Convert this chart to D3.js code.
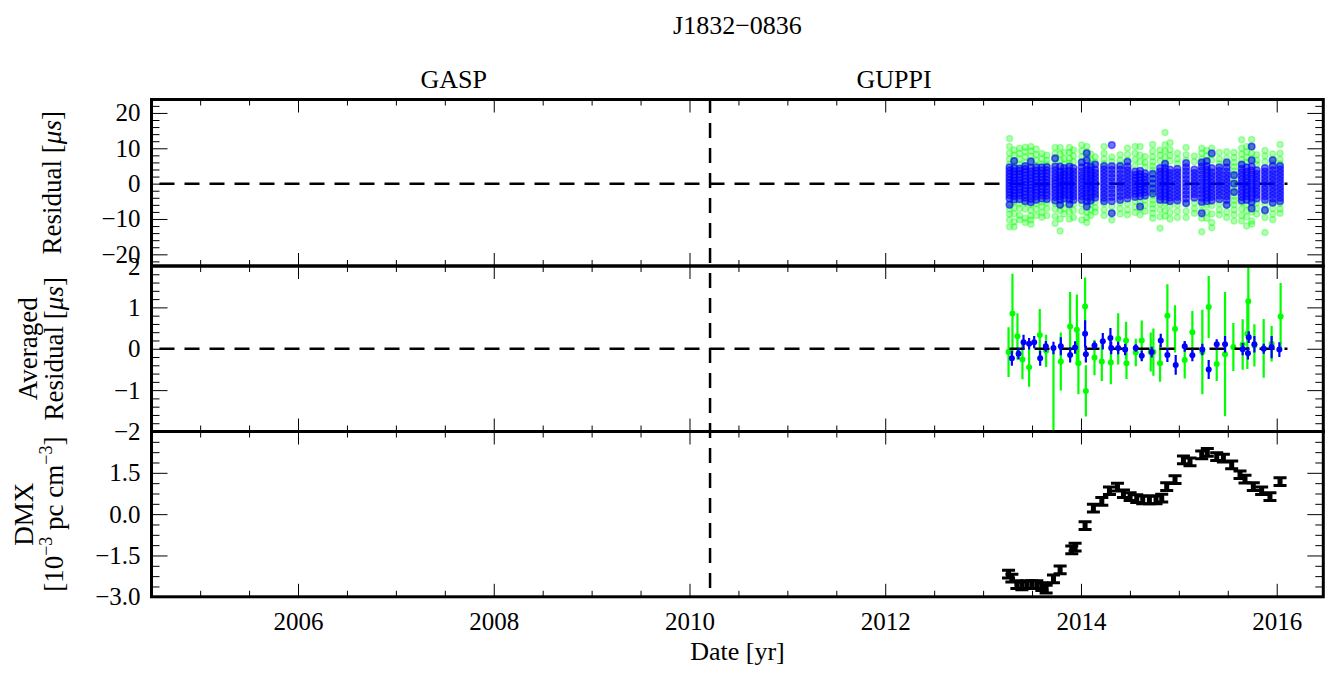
<!DOCTYPE html>
<html><head><meta charset="utf-8">
<script src="https://cdn.jsdelivr.net/npm/d3@7"></script>
<style>
html,body{margin:0;padding:0;background:#fff;}
svg{display:block;}
text{font-family:"Liberation Serif","Times New Roman",serif;}
</style></head><body>
<svg id="c" width="1330" height="673"></svg>
<script>
// ---------------- DATA ----------------
const title = "J1832\u22120836";
const backends = ["GASP", "GUPPI"];
const backendSwitch = 2010.21;
const xTicks = [2006, 2008, 2010, 2012, 2014, 2016];
const resTicks = [-20, -10, 0, 10, 20];
const avgTicks = [-2, -1, 0, 1, 2];
const dmxTicks = [-3.0, -1.5, 0.0, 1.5];

// Residual epochs [yr] and residuals [us] per epoch
const resEpochs = [2013.270, 2013.317, 2013.372, 2013.430, 2013.488, 2013.542, 2013.600, 2013.651,
  2013.736, 2013.787, 2013.828, 2013.882, 2013.923, 2014.008, 2014.059, 2014.100, 2014.145, 2014.236,
  2014.315, 2014.400, 2014.475, 2014.553, 2014.604, 2014.655, 2014.733, 2014.808, 2014.859, 2014.910,
  2014.985, 2015.074, 2015.159, 2015.234, 2015.285, 2015.336, 2015.414, 2015.489, 2015.564, 2015.642,
  2015.693, 2015.744, 2015.795, 2015.880, 2015.959, 2016.034];
const resGreen = [
  [12.8,10.5,8.6,7.0,5.5,-5.5,-7.2,-8.6,-10.2,-12.2],
  [9.5,8.0,6.5,5.3,-5.2,-6.8,-8.5,-10.8,-12.2],
  [10.0,8.5,7.0,5.4,-5.6,-7.0,-9.0,-10.2],
  [10.3,9.0,7.6,6.0,-5.5,-7.2,-9.8,-11.0],
  [10.5,9.2,7.8,6.0,-6.0,-7.5,-9.1,-10.3,-11.5],
  [9.8,8.2,6.6,5.2,-5.6,-7.2,-9.0],
  [8.5,7.0,5.5,-5.2,-6.5,-8.2,-9.5],
  [8.0,6.6,5.4,-5.4,-7.0,-9.0],
  [10.2,8.5,7.0,5.6,-5.6,-7.2,-9.2,-11.2],
  [10.2,8.4,6.6,-5.8,-7.6,-10.0,-13.4],
  [8.8,7.0,5.5,-5.4,-7.0,-8.6],
  [10.2,8.8,7.2,5.8,-6.2,-8.0,-10.0],
  [9.5,7.8,6.2,-5.8,-7.6,-9.6],
  [10.9,9.2,7.6,6.0,-5.8,-7.8,-10.3],
  [10.5,9.0,7.4,-6.0,-8.0,-9.6,-11.0],
  [8.4,6.8,5.6,-5.6,-7.4,-9.0],
  [7.5,6.0,-5.2,-6.8,-8.0],
  [10.5,8.6,7.0,5.6,-5.6,-7.4,-9.0],
  [7.5,6.2,-6.4,-8.2,-10.3],
  [8.2,6.6,5.4,-5.4,-7.0,-8.6],
  [10.0,8.2,6.6,-5.6,-7.4,-8.8],
  [10.5,8.6,6.8,5.0,-5.0,-6.6,-8.2],
  [10.5,8.0,6.2,-5.2,-7.0,-8.8],
  [7.6,6.0,4.6,-4.6,-6.2,-7.8],
  [11.1,9.2,7.6,6.2,5.0,3.8,2.6,1.4,0.2,-1.0,-2.2,-3.4,-4.6,-5.8,-7.0,-8.4,-9.8],
  [9.5,8.0,6.4,-5.6,-7.4,-9.4,-12.6],
  [14.5,11.0,9.2,7.4,5.8,-5.6,-7.6,-9.2],
  [11.6,9.6,8.0,6.4,-6.2,-8.2,-10.0],
  [8.6,7.0,5.6,-6.0,-7.8,-9.6],
  [10.2,8.2,6.6,-5.8,-7.8,-9.6],
  [7.8,6.2,-5.4,-7.0,-8.4],
  [10.0,8.6,7.0,5.8,-6.0,-7.8,-9.8,-13.6],
  [9.4,7.8,6.2,-6.0,-8.0,-9.8],
  [10.0,8.2,6.6,-6.2,-8.6,-11.0,-12.5],
  [8.8,7.0,5.6,-5.6,-7.4,-8.8],
  [9.0,7.2,5.6,-6.2,-8.0,-9.6],
  [8.8,7.4,6.0,4.8,3.6,2.4,1.2,0.0,-1.2,-2.4,-3.6,-4.8,-6.0,-7.4,-8.8,-10.6],
  [12.4,10.0,8.4,6.8,5.4,-5.4,-7.2,-9.0,-10.6],
  [10.5,9.0,7.4,6.0,-6.0,-7.6,-9.4,-12.0],
  [12.5,10.4,8.6,7.0,-6.0,-8.0,-10.6,-11.4],
  [8.2,6.6,5.4,-5.4,-7.0,-8.6],
  [9.4,7.8,6.2,-5.8,-7.8,-9.6,-13.8],
  [8.4,7.0,5.6,-5.4,-7.0,-8.6,-10.2],
  [11.1,8.6,6.8,5.6,-5.6,-7.2,-8.4]
];
const resBlue = [
  [-6.0,-4.2,-3.3,-2.4,-1.5,-0.7,0.2,1.0,1.9,2.8,3.7,4.6],
  [-4.5,-3.5,-2.6,-1.8,-0.9,0.0,0.8,1.7,2.6,3.5,4.4,6.4],
  [-4.4,-3.4,-2.5,-1.6,-0.8,0.1,0.9,1.8,2.7,3.6,4.3],
  [-5.0,-4.0,-3.1,-2.2,-1.3,-0.4,0.5,1.4,2.3,3.2,4.1,5.0],
  [-5.3,-4.3,-3.2,-2.2,-1.2,-0.3,0.6,1.5,2.5,3.5,4.5,6.3],
  [-4.6,-3.6,-2.6,-1.7,-0.8,0.1,1.0,1.9,2.8,3.7,4.6],
  [-4.2,-3.3,-2.4,-1.5,-0.7,0.2,1.0,1.9,2.8,3.7,4.6],
  [-4.4,-3.4,-2.5,-1.6,-0.7,0.2,1.1,2.0,2.9,3.8,4.7],
  [-4.8,-3.8,-2.8,-1.8,-0.9,0.0,0.9,1.8,2.8,3.8,4.8,7.2],
  [-6.0,-4.6,-3.6,-2.6,-1.6,-0.6,0.4,1.4,2.4,3.4,4.8],
  [-4.2,-3.2,-2.2,-1.2,-0.3,0.6,1.5,2.5,3.5,4.4],
  [-5.8,-4.5,-3.4,-2.4,-1.4,-0.4,0.6,1.6,2.6,3.6,4.8],
  [-4.6,-3.6,-2.6,-1.6,-0.6,0.4,1.4,2.4,3.4,4.4],
  [-4.6,-3.6,-2.6,-1.6,-0.6,0.4,1.4,2.4,3.4,4.6,6.0],
  [-6.5,-5.0,-3.8,-2.7,-1.6,-0.5,0.6,1.7,2.8,3.9,5.0,6.6,8.6],
  [-4.8,-3.7,-2.6,-1.5,-0.5,0.5,1.5,2.6,3.7,4.8],
  [-4.0,-3.0,-2.0,-1.0,0.0,1.0,2.0,3.0,4.0,5.4],
  [-5.0,-4.0,-3.0,-2.0,-1.0,0.0,1.0,2.0,3.0,4.0,5.0],
  [-8.4,-5.0,-3.8,-2.7,-1.6,-0.5,0.6,1.7,2.8,3.9,5.0,10.9],
  [-4.6,-3.5,-2.4,-1.3,-0.3,0.7,1.7,2.8,3.9,5.0],
  [-4.2,-3.2,-2.2,-1.2,-0.2,0.8,1.8,2.8,3.8,4.8,6.2],
  [-3.8,-2.9,-2.0,-1.1,-0.2,0.7,1.6,2.5,3.4],
  [-6.5,-3.6,-2.7,-1.8,-0.9,0.0,0.9,1.8,2.7,3.6],
  [-3.4,-2.5,-1.6,-0.7,0.2,1.1,2.0,2.9],
  [-2.8,-1.4,0.0,1.4,2.8],
  [-4.6,-3.6,-2.6,-1.6,-0.6,0.4,1.4,2.4,3.4,4.4],
  [-4.6,-3.6,-2.6,-1.6,-0.6,0.4,1.4,2.4,3.4,4.4,5.6],
  [-5.0,-4.0,-3.0,-2.0,-1.0,0.0,1.0,2.0,3.0,4.0],
  [-4.8,-3.8,-2.8,-1.8,-0.8,0.2,1.2,2.2,3.2,4.2],
  [-5.5,-4.2,-3.1,-2.0,-0.9,0.2,1.3,2.4,3.5,4.6,5.8],
  [-4.0,-3.0,-2.0,-1.0,0.0,1.0,2.0,3.0,4.0],
  [-8.4,-5.2,-4.0,-2.9,-1.8,-0.7,0.4,1.5,2.6,3.7,4.8,6.0],
  [-5.0,-4.0,-3.0,-2.0,-1.0,0.0,1.0,2.0,3.0,4.0,5.0,6.4],
  [-4.8,-3.8,-2.8,-1.8,-0.8,0.2,1.2,2.2,3.2,4.4,8.6],
  [-4.4,-3.4,-2.4,-1.4,-0.4,0.6,1.6,2.6,3.6,4.6],
  [-6.0,-4.6,-3.6,-2.6,-1.6,-0.6,0.4,1.4,2.4,3.4,4.6,6.0],
  [-2.4,0.0,2.4],
  [-4.8,-3.8,-2.8,-1.8,-0.8,0.2,1.2,2.2,3.2,4.2,5.4],
  [-4.6,-3.6,-2.6,-1.6,-0.6,0.4,1.4,2.4,3.4,4.6],
  [-7.0,-5.2,-4.0,-2.9,-1.8,-0.7,0.4,1.5,2.6,3.7,4.8,6.6,10.5],
  [-4.2,-3.2,-2.2,-1.2,-0.2,0.8,1.8,2.8,3.8],
  [-7.5,-4.6,-3.6,-2.6,-1.6,-0.6,0.4,1.4,2.4,3.4,4.4],
  [-5.4,-4.2,-3.2,-2.2,-1.2,-0.2,0.8,1.8,2.8,3.8,5.0,6.6],
  [-5.0,-4.0,-3.0,-2.0,-1.0,0.0,1.0,2.0,3.0,4.0,5.0]
];

// Averaged residuals [us]
const avgGreenDates = [2013.260,2013.300,2013.351,2013.402,2013.470,2013.579,2013.644,2013.719,2013.794,2013.889,
  2013.958,2013.974,2014.042,2014.050,2014.138,2014.213,2014.305,2014.380,2014.461,2014.465,2014.560,2014.621,
  2014.713,2014.740,2014.808,2014.883,2014.961,2015.060,2015.138,2015.240,2015.305,2015.387,2015.472,2015.557,
  2015.652,2015.700,2015.710,2015.772,2015.867,2015.948,2016.040];
const avgGreenRes = [-0.08,0.85,0.30,-0.26,-0.45,0.33,-0.05,-2.40,-0.31,0.54,
  0.46,-0.35,1.02,-1.02,-0.21,-0.31,-0.33,0.24,0.20,-0.35,-0.09,0.20,
  -0.08,-0.08,-0.35,0.80,0.48,-0.27,0.40,-0.08,1.01,-0.37,-0.13,0.04,
  0.10,0.36,1.15,0.08,0.01,0.12,0.78];
const avgGreenErr = [0.60,0.96,0.56,0.48,0.47,0.63,0.39,2.45,0.70,0.83,
  0.85,0.75,0.70,0.62,0.43,0.47,0.53,0.62,0.45,0.38,0.33,0.48,
  0.47,0.57,0.45,0.76,0.57,0.45,0.51,1.02,0.75,0.41,1.50,0.58,
  0.61,0.85,0.82,0.51,0.71,0.43,0.81];
const avgBlueDates = [2013.294,2013.362,2013.413,2013.470,2013.522,2013.583,2013.641,2013.719,2013.794,2013.889,
  2013.940,2014.042,2014.050,2014.138,2014.223,2014.301,2014.309,2014.380,2014.451,2014.560,2014.621,2014.723,
  2014.815,2014.883,2014.968,2015.060,2015.138,2015.240,2015.305,2015.387,2015.472,2015.652,2015.706,2015.714,
  2015.772,2015.867,2015.948,2016.027];
const avgBlueRes = [-0.23,-0.12,0.16,0.12,0.16,-0.23,0.06,0.02,0.06,-0.15,
  0.03,0.36,-0.13,0.08,0.18,0.26,0.02,0.02,-0.02,0.02,-0.17,-0.08,
  0.20,-0.15,-0.39,0.06,-0.16,-0.02,-0.50,0.11,0.11,-0.01,-0.11,0.28,
  0.11,0.00,0.04,-0.02];
const avgBlueErr = [0.18,0.14,0.18,0.14,0.15,0.18,0.13,0.15,0.22,0.18,
  0.15,0.33,0.20,0.10,0.20,0.24,0.15,0.15,0.14,0.09,0.13,0.13,
  0.16,0.17,0.24,0.13,0.14,0.14,0.23,0.12,0.20,0.15,0.15,0.14,
  0.20,0.12,0.27,0.18];

// DMX [1e-3 pc cm^-3]
const dmxDates = [2013.260,2013.294,2013.345,2013.396,2013.447,2013.498,2013.549,2013.600,2013.644,2013.719,
  2013.787,2013.906,2013.940,2014.042,2014.127,2014.213,2014.291,2014.373,2014.434,2014.502,
  2014.570,2014.631,2014.699,2014.767,2014.825,2014.876,2014.961,2015.047,2015.114,2015.234,
  2015.291,2015.387,2015.455,2015.540,2015.625,2015.676,2015.761,2015.846,2015.931,2016.034];
const dmxValues = [-2.18,-2.32,-2.56,-2.60,-2.56,-2.56,-2.56,-2.63,-2.72,-2.35,
  -2.02,-1.30,-1.20,-0.42,0.22,0.46,0.85,0.98,0.74,0.64,
  0.56,0.52,0.52,0.52,0.58,1.00,1.25,1.97,1.90,2.15,
  2.24,2.09,2.03,1.79,1.43,1.27,1.00,0.85,0.64,1.18];
const dmxErrors = [0.14,0.14,0.14,0.14,0.14,0.14,0.14,0.14,0.14,0.14,
  0.14,0.14,0.14,0.14,0.14,0.14,0.14,0.14,0.14,0.14,
  0.14,0.14,0.14,0.14,0.14,0.14,0.14,0.14,0.14,0.14,
  0.14,0.14,0.14,0.14,0.14,0.14,0.14,0.14,0.14,0.14];

// ---------------- LAYOUT ----------------
const L = 151.5, R = 1323.3;
const GREEN = "#00ff00", BLUE = "#0000ff";
const FONT = 25;
const svg = d3.select("#c");
const x = d3.scaleLinear().domain([2004.503, 2016.476]).range([L, R]);
const zeroLineEnd = 2016.11;

const panels = [
  {top: 99.5, bot: 266, dom: [-23.3, 23.8], ticks: resTicks, fmt: d3.format("d"),
   minor: d3.range(-22, 23, 2).filter(v => v % 10 !== 0)},
  {top: 266, bot: 431.5, dom: [-2, 2], ticks: avgTicks, fmt: d3.format("d"),
   minor: d3.range(-9, 10).filter(v => v % 5 !== 0).map(v => v * 0.2)},
  {top: 431.5, bot: 596.8, dom: [-3, 3], ticks: dmxTicks, fmt: d3.format(".1f"),
   minor: d3.range(-7, 8).filter(v => v % 4 !== 0).map(v => v * 0.375)}
];
panels.forEach(p => { p.y = d3.scaleLinear().domain(p.dom).range([p.bot, p.top]); });

const defs = svg.append("defs");
panels.forEach((p, i) => {
  defs.append("clipPath").attr("id", "clip" + i).append("rect")
    .attr("x", L).attr("y", p.top).attr("width", R - L).attr("height", p.bot - p.top);
});

const xMinor = d3.range(2004.5, 2016.6, 0.5).filter(v => !xTicks.includes(v) && v > x.domain()[0] && v < x.domain()[1]);

function styleAxis(g) {
  g.select(".domain").remove();
  g.attr("font-family", '"Liberation Serif","Times New Roman",serif').attr("font-size", FONT);
  g.selectAll(".tick line").attr("stroke", "#000").attr("stroke-width", 1);
  g.selectAll(".tick text").attr("fill", "#000");
}

panels.forEach((p, i) => {
  const g = svg.append("g");
  g.append("g").attr("transform", `translate(${L},0)`)
    .call(d3.axisLeft(p.y).tickValues(p.ticks).tickSize(-16).tickPadding(11).tickFormat(p.fmt)).call(styleAxis);
  g.append("g").attr("transform", `translate(${L},0)`)
    .call(d3.axisLeft(p.y).tickValues(p.minor).tickSize(-8).tickFormat("")).call(styleAxis);
  g.append("g").attr("transform", `translate(${R},0)`)
    .call(d3.axisRight(p.y).tickValues(p.ticks).tickSize(-16).tickFormat("")).call(styleAxis);
  g.append("g").attr("transform", `translate(${R},0)`)
    .call(d3.axisRight(p.y).tickValues(p.minor).tickSize(-8).tickFormat("")).call(styleAxis);
  g.append("g").attr("transform", `translate(0,${p.top})`)
    .call(d3.axisTop(x).tickValues(xTicks).tickSize(-13).tickFormat("")).call(styleAxis);
  g.append("g").attr("transform", `translate(0,${p.top})`)
    .call(d3.axisTop(x).tickValues(xMinor).tickSize(-6).tickFormat("")).call(styleAxis);
  g.append("g").attr("transform", `translate(0,${p.bot})`)
    .call(d3.axisBottom(x).tickValues(xTicks).tickSize(-13).tickPadding(15)
      .tickFormat(i === 2 ? d3.format("d") : "")).call(styleAxis);
  g.append("g").attr("transform", `translate(0,${p.bot})`)
    .call(d3.axisBottom(x).tickValues(xMinor).tickSize(-6).tickFormat("")).call(styleAxis);
});

// ---- Top panel: residuals ----
const p0 = panels[0];
const g0 = svg.append("g").attr("clip-path", "url(#clip0)");
g0.append("line").attr("x1", x(x.domain()[0])).attr("x2", x(zeroLineEnd))
  .attr("y1", p0.y(0)).attr("y2", p0.y(0))
  .attr("stroke", "#000").attr("stroke-width", 2.5).attr("stroke-dasharray", "15,10").attr("stroke-dashoffset", 17);
const greenPts = [], bluePts = [];
resEpochs.forEach((t, i) => {
  resGreen[i].forEach(v => greenPts.push([t, v]));
  resBlue[i].forEach(v => bluePts.push([t, v]));
});
function scatter(pts, col, op, r) {
  g0.append("g").selectAll("circle").data(pts).join("circle")
    .attr("cx", d => x(d[0])).attr("cy", d => p0.y(d[1])).attr("r", r)
    .attr("fill", col).attr("fill-opacity", op)
    .attr("stroke", col).attr("stroke-opacity", op).attr("stroke-width", 1.5);
}
scatter(greenPts, GREEN, 0.3, 3);
scatter(bluePts, BLUE, 0.55, 3.3);

// ---- Middle panel: averaged residuals ----
const p1 = panels[1];
const g1 = svg.append("g").attr("clip-path", "url(#clip1)");
function errPoints(dates, vals, errs, col) {
  const data = dates.map((d, i) => ({t: d, v: vals[i], e: errs[i]}));
  const gg = g1.append("g");
  gg.selectAll("line").data(data).join("line")
    .attr("x1", d => x(d.t)).attr("x2", d => x(d.t))
    .attr("y1", d => p1.y(d.v - d.e)).attr("y2", d => p1.y(d.v + d.e))
    .attr("stroke", col).attr("stroke-width", 2.2);
  gg.selectAll("circle").data(data).join("circle")
    .attr("cx", d => x(d.t)).attr("cy", d => p1.y(d.v)).attr("r", 3).attr("fill", col);
}
errPoints(avgGreenDates, avgGreenRes, avgGreenErr, GREEN);
g1.append("line").attr("x1", x(x.domain()[0])).attr("x2", x(zeroLineEnd))
  .attr("y1", p1.y(0)).attr("y2", p1.y(0))
  .attr("stroke", "#000").attr("stroke-width", 2.5).attr("stroke-dasharray", "15,10").attr("stroke-dashoffset", 17);
errPoints(avgBlueDates, avgBlueRes, avgBlueErr, BLUE);

// ---- Bottom panel: DMX ----
const p2 = panels[2];
const g2 = svg.append("g").attr("clip-path", "url(#clip2)");
const dmxData = dmxDates.map((d, i) => ({t: d, v: dmxValues[i], e: dmxErrors[i]}));
const eb = g2.selectAll("g.eb").data(dmxData).join("g").attr("class", "eb");
eb.append("line").attr("x1", d => x(d.t)).attr("x2", d => x(d.t))
  .attr("y1", d => p2.y(d.v - d.e)).attr("y2", d => p2.y(d.v + d.e))
  .attr("stroke", "#000").attr("stroke-width", 5);
[-1, 1].forEach(s => {
  eb.append("line").attr("x1", d => x(d.t) - 6.5).attr("x2", d => x(d.t) + 6.5)
    .attr("y1", d => p2.y(d.v + s * d.e)).attr("y2", d => p2.y(d.v + s * d.e))
    .attr("stroke", "#000").attr("stroke-width", 3);
});

// ---- Vertical backend switch line ----
svg.append("line").attr("x1", x(backendSwitch)).attr("x2", x(backendSwitch))
  .attr("y1", panels[0].top).attr("y2", panels[2].bot)
  .attr("stroke", "#000").attr("stroke-width", 2.5).attr("stroke-dasharray", "15,10").attr("stroke-dashoffset", 1.5);

// ---- Frames ----
panels.forEach(p => {
  svg.append("rect").attr("x", L).attr("y", p.top).attr("width", R - L).attr("height", p.bot - p.top)
    .attr("fill", "none").attr("stroke", "#000").attr("stroke-width", 3);
});

// ---- Texts ----
svg.append("text").attr("x", x(2010.49)).attr("y", 34).attr("text-anchor", "middle")
  .attr("font-size", 26).text(title);
const backendLabelX = [2007.59, 2012.09];
backends.forEach((b, i) => {
  svg.append("text").attr("x", x(backendLabelX[i])).attr("y", 88).attr("text-anchor", "middle")
    .attr("font-size", 26).text(b);
});
svg.append("text").attr("x", x(2010.49)).attr("y", 660).attr("text-anchor", "middle")
  .attr("font-size", 26).text("Date [yr]");

function ylabel(xpos, ymid, builder) {
  const t = svg.append("text").attr("transform", `translate(${xpos},${ymid}) rotate(-90)`)
    .attr("text-anchor", "middle").attr("font-size", 27);
  builder(t);
}
function residLabel(t) {
  t.append("tspan").text("Residual [");
  t.append("tspan").attr("font-style", "italic").text("\u03bcs");
  t.append("tspan").text("]");
}
ylabel(61, (p0.top + p0.bot) / 2, residLabel);
ylabel(37, (p1.top + p1.bot) / 2, t => t.text("Averaged"));
ylabel(63, (p1.top + p1.bot) / 2, residLabel);
ylabel(33, (p2.top + p2.bot) / 2, t => t.text("DMX"));
ylabel(63, (p2.top + p2.bot) / 2, t => {
  t.append("tspan").text("[10");
  t.append("tspan").attr("font-size", 18).attr("dy", -11).text("\u22123");
  t.append("tspan").attr("dy", 11).text(" pc cm");
  t.append("tspan").attr("font-size", 18).attr("dy", -11).text("\u22123");
  t.append("tspan").attr("dy", 11).text("]");
});
</script>
</body></html>
